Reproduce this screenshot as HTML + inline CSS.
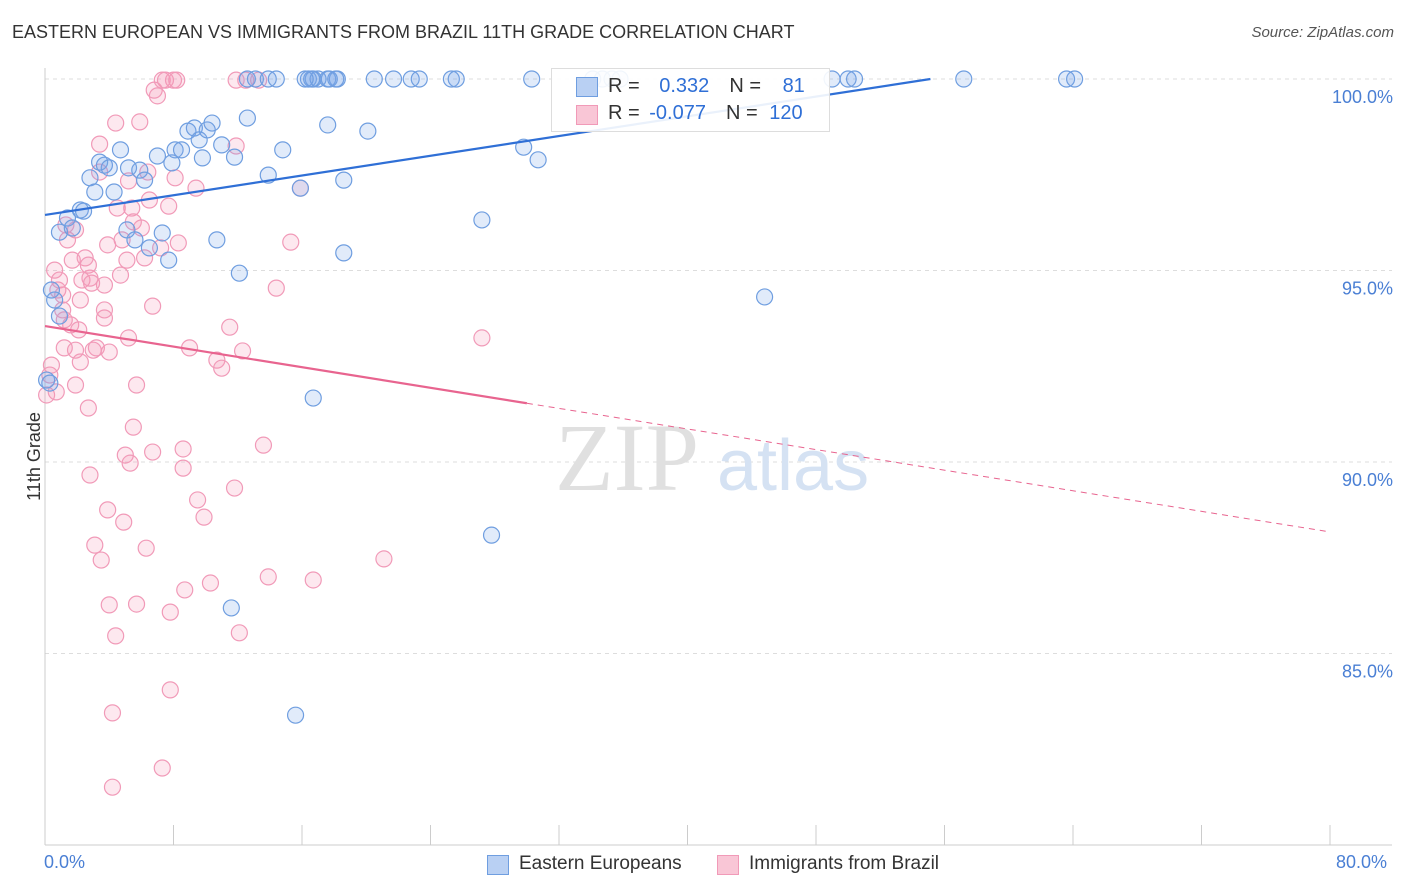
<!DOCTYPE html>
<html><head><meta charset="utf-8">
<style>
body{margin:0;background:#fff;font-family:"Liberation Sans",sans-serif;}
#wrap{position:relative;width:1406px;height:892px;overflow:hidden;}
.t{position:absolute;white-space:nowrap;}
</style></head>
<body>
<div id="wrap">
<div class="t" style="left:12px;top:22px;font-size:18px;color:#333;">EASTERN EUROPEAN VS IMMIGRANTS FROM BRAZIL 11TH GRADE CORRELATION CHART</div>
<div class="t" style="right:12px;top:24px;font-size:15px;color:#555;font-style:italic;">Source: ZipAtlas.com</div>
<svg id="plot" width="1406" height="892" style="position:absolute;left:0;top:0"></svg>
</div>
<script>
const blueX=[0.1,0.3,0.9,1.4,1.7,2.2,2.4,2.8,3.1,3.4,3.7,4.0,4.3,4.7,5.2,5.9,6.2,6.5,7.0,7.3,7.7,7.9,8.1,8.5,8.9,9.3,9.6,9.8,10.1,10.4,11.0,11.8,12.1,12.6,10.7,13.9,14.8,15.9,16.7,17.6,18.6,18.6,20.1,27.2,27.8,29.8,30.7,44.8,11.6,15.6,5.6,5.1,0.9,0.6,0.4,
12.6,13.1,13.9,14.4,16.4,16.7,17.0,17.6,18.2,20.5,21.7,22.8,23.3,25.3,25.6,30.3,34.1,34.7,35.3,35.8,49.0,50.0,50.4,57.2,63.6,64.1,16.6,16.2,17.7,18.1];
const blueY=[92.14,92.06,96.0,96.37,96.11,96.58,96.55,97.42,97.05,97.83,97.75,97.68,97.05,98.15,97.68,97.62,97.36,95.59,97.99,95.98,95.27,97.81,98.15,98.15,98.64,98.72,98.41,97.94,98.67,98.85,98.28,97.96,94.93,98.98,95.80,97.49,98.15,97.15,91.67,98.80,97.36,95.46,98.64,96.32,88.09,98.22,97.89,94.31,86.19,83.39,95.80,96.06,93.81,94.23,94.49,
100,100,100,100,100,100,100,100,100,100,100,100,100,100,100,100,100,100,100,100,100,100,100,100,100,100,100,100,100,100];
const pinkX=[0.1,0.3,0.4,0.6,0.8,0.9,1.1,1.1,1.2,1.4,1.6,1.7,1.9,1.9,2.1,2.2,2.3,2.5,2.7,2.8,2.7,2.8,3.0,3.1,3.2,3.4,3.5,3.7,3.7,3.9,3.9,4.0,4.2,4.2,4.4,4.4,4.5,4.7,4.8,4.9,5.0,5.1,5.2,5.2,5.3,5.4,5.5,5.5,5.7,5.7,5.9,6.0,6.2,6.3,6.4,6.5,6.7,6.7,6.8,7.0,7.2,7.3,7.3,7.7,7.8,7.8,8.1,8.3,8.6,8.6,8.7,9.0,9.4,9.5,9.9,10.3,10.7,11.0,11.5,11.8,12.1,12.3,11.9,13.6,13.9,14.4,15.3,15.9,16.7,21.1,27.2,12.5,13.3,8.0,7.5,8.2,11.9,3.4,1.3,2.9,3.7,4.0,1.9,1.2,0.7,2.2];
const pinkY=[91.75,92.27,92.53,95.01,94.49,94.75,94.36,93.97,93.71,95.80,93.58,95.27,92.01,96.06,93.45,94.23,94.75,95.33,95.14,94.80,91.41,89.66,92.92,87.83,92.98,97.57,87.44,94.62,93.97,88.75,95.67,86.27,81.51,83.45,85.46,98.85,96.63,94.88,95.80,88.43,90.18,95.27,93.24,97.34,89.97,96.63,96.27,90.91,86.29,92.01,98.88,96.11,95.33,87.75,97.57,96.84,94.07,90.26,99.71,99.56,95.59,99.97,82.01,96.68,84.05,86.08,97.42,95.72,89.84,90.34,86.66,92.98,97.15,89.01,88.56,86.84,92.66,92.45,93.52,89.32,85.54,92.90,98.25,90.44,87.00,94.54,95.74,97.15,86.92,87.47,93.24,99.97,99.97,99.97,99.97,99.97,99.97,98.30,96.19,94.67,93.76,92.87,92.92,92.98,91.83,92.61];
const yTicks=[100,95,90,85];
const yTickLabels=["100.0%","95.0%","90.0%","85.0%"];
const blueTrend=[96.45,0.0644];
const pinkTrend=[93.55,-0.0672];
const NS="http://www.w3.org/2000/svg";
const X0=45,X1=1330,Ytop=79;
function sx(v){return X0+(v/80)*(X1-X0);}
function sy(v){return Ytop+(100-v)*38.3;}
const svg=document.getElementById('plot');
function mk(tag,attrs,parent){const e=document.createElementNS(NS,tag);for(const k in attrs)e.setAttribute(k,attrs[k]);(parent||svg).appendChild(e);return e;}
// grid
yTicks.forEach((t,i)=>{
 const g=mk('line',{x1:X0,x2:1392,y1:sy(t),y2:sy(t),stroke:'#ddd','stroke-dasharray':'4,4'});
 
 
 const tx=mk('text',{x:1393,y:sy(t)+24,'text-anchor':'end','font-size':18,fill:'#4a7fd4','font-family':'Liberation Sans'});
 tx.textContent=yTickLabels[i];
 
 
});
// axes
mk('line',{x1:X0,x2:X0,y1:68,y2:845,stroke:'#ccc'});
mk('line',{x1:X0,x2:1392,y1:845,y2:845,stroke:'#ccc'});
for(let i=0;i<=10;i++){const l=mk('line',{x1:sx(i*8),x2:sx(i*8),y1:825,y2:845,stroke:'#ccc'});
 
 }
// watermark
const w1=mk('text',{x:555,y:490,'font-size':96,fill:'#e0e0e0','font-family':'Liberation Serif'});w1.textContent='ZIP';


const w2=mk('text',{x:717,y:490,'font-size':72,fill:'#d5e2f3','font-family':'Liberation Sans'});w2.textContent='atlas';


// points
pinkX.forEach((x,i)=>{const c=mk('circle',{cx:sx(x),cy:sy(pinkY[i]),r:8,fill:'rgba(244,150,180,0.22)',stroke:'#f19ab8','stroke-width':1.2});
 
 });
blueX.forEach((x,i)=>{const c=mk('circle',{cx:sx(x),cy:sy(blueY[i]),r:8,fill:'rgba(120,165,230,0.22)',stroke:'#6f9ee0','stroke-width':1.2});
 
 });
// trends
const bEnd=(100-blueTrend[0])/blueTrend[1];
const bl=mk('line',{x1:sx(0),y1:sy(blueTrend[0]),x2:sx(bEnd),y2:sy(100),stroke:'#2f6fd6','stroke-width':2.2});


const pl=mk('line',{x1:sx(0),y1:sy(pinkTrend[0]),x2:sx(30),y2:sy(pinkTrend[0]+pinkTrend[1]*30),stroke:'#e8648f','stroke-width':2.2});


const pd=mk('line',{x1:sx(30),y1:sy(pinkTrend[0]+pinkTrend[1]*30),x2:sx(80),y2:sy(pinkTrend[0]+pinkTrend[1]*80),stroke:'#e8648f','stroke-width':1,'stroke-dasharray':'6,5'});


</script>
<div class="t" style="left:-10px;top:446px;font-size:18px;color:#333;transform:rotate(-90deg);">11th Grade</div>
<div class="t" style="left:44px;top:852px;font-size:18px;color:#4a7fd4;">0.0%</div>
<div class="t" style="left:1336px;top:852px;font-size:18px;color:#4a7fd4;">80.0%</div>
<div style="position:absolute;left:551px;top:68px;width:277px;height:62px;border:1px solid #ddd;background:rgba(255,255,255,0.9);font-size:20px;">
 <div style="position:absolute;left:24px;top:8px;width:20px;height:18px;background:#b9d0f3;border:1px solid #6f9ee0;"></div>
 <div class="t" style="left:56px;top:6px;color:#333;">R = <span style="color:#2f6fd6;margin-left:14px">0.332</span><span style="margin-left:20px">N = </span><span style="color:#2f6fd6;margin-left:16px">81</span></div>
 <div style="position:absolute;left:24px;top:36px;width:20px;height:18px;background:#f9c6d6;border:1px solid #f19ab8;"></div>
 <div class="t" style="left:56px;top:33px;color:#333;">R = <span style="color:#2f6fd6;margin-left:4px">-0.077</span><span style="margin-left:20px">N = </span><span style="color:#2f6fd6;margin-left:6px">120</span></div>
</div>
<div style="position:absolute;left:487px;top:853px;font-size:19px;color:#333;">
 <div style="position:absolute;left:0;top:2px;width:20px;height:18px;background:#b9d0f3;border:1px solid #6f9ee0;"></div>
 <span class="t" style="left:32px;top:0;">Eastern Europeans</span></div>
<div style="position:absolute;left:717px;top:853px;font-size:19px;color:#333;">
 <div style="position:absolute;left:0;top:2px;width:20px;height:18px;background:#f9c6d6;border:1px solid #f19ab8;"></div>
 <span class="t" style="left:32px;top:0;">Immigrants from Brazil</span></div>
</body></html>
